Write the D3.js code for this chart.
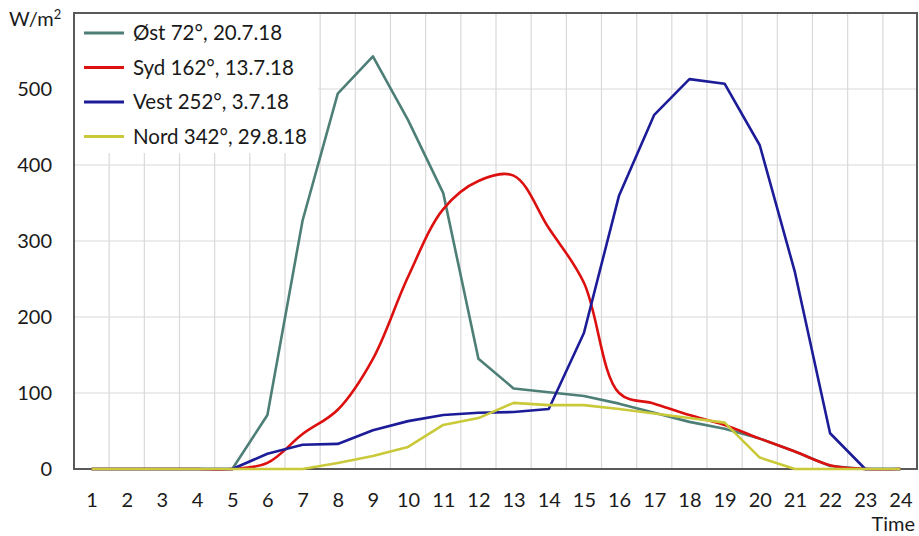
<!DOCTYPE html>
<html>
<head>
<meta charset="utf-8">
<script src="https://cdn.jsdelivr.net/npm/d3@7"></script>
<style>
  html, body { margin: 0; padding: 0; background: #fff; }
  svg { display: block; }
  text { font-family: Lato, "Open Sans", sans-serif; fill: #1a1a1a; }
</style>
</head>
<body>
<svg id="chart" width="919" height="536"></svg>
<script>
// ---- data ----
const hours = d3.range(1, 25);
const yTicks = [0, 100, 200, 300, 400, 500];
const seriesNames = ["Øst 72°, 20.7.18", "Syd 162°, 13.7.18", "Vest 252°, 3.7.18", "Nord 342°, 29.8.18"];
const seriesColors = ["#4d7f77", "#dd1010", "#1c1c98", "#c9c93a"];
const seriesSmooth = [false, true, false, false];
const ost  = [0, 0, 0, 0, 0, 71, 327, 494, 543, 459, 363, 145, 106, 101, 96, 86, 74, 62, 53, 40, 23, 4, 0, 0];
const syd  = [0, 0, 0, 0, 0, 8, 46, 78, 145, 253, 342, 379, 386, 317, 245, 100, 86, 71, 58, 40, 23, 5, 0, 0];
const vest = [0, 0, 0, 0, 0, 20, 32, 33, 51, 63, 71, 74, 75, 79, 179, 360, 466, 513, 507, 426, 259, 47, 0, 0];
const nord = [0, 0, 0, 0, 0, 0, 0, 8, 17, 29, 58, 67, 87, 84, 84, 79, 73, 67, 61, 15, 0, 0, 0, 0];
const seriesValues = [ost, syd, vest, nord];

// ---- layout ----
const svg = d3.select("#chart");
const L = 74, R = 918, T = 13, B = 469;

const xBand = d3.scaleBand().domain(hours).range([L, R]).paddingInner(0).paddingOuter(0);
const xc = h => xBand(h) + xBand.bandwidth() / 2;
const y = d3.scaleLinear().domain([0, 600]).range([B, T]);

// grid
const grid = svg.append("g");
grid.selectAll("line.h").data(yTicks.filter(v => v > 0)).join("line")
  .attr("x1", L).attr("x2", R).attr("y1", d => y(d)).attr("y2", d => y(d))
  .attr("stroke", "#d9d9d9").attr("stroke-width", 1.2);
grid.selectAll("line.v").data(hours.slice(1)).join("line")
  .attr("x1", d => xBand(d)).attr("x2", d => xBand(d)).attr("y1", T).attr("y2", B)
  .attr("stroke", "#d9d9d9").attr("stroke-width", 1.2);

// legend background
svg.append("rect").attr("x", L).attr("y", T).attr("width", 244).attr("height", 140).attr("fill", "#fff");

// border
svg.append("rect").attr("x", L).attr("y", T).attr("width", 917 - L).attr("height", B - T)
  .attr("fill", "none").attr("stroke", "#595959").attr("stroke-width", 2);

// lines
const linesG = svg.append("g");
seriesValues.forEach((vals, i) => {
  const gen = d3.line()
    .x((d, j) => xc(hours[j]))
    .y(d => y(d))
    .curve(seriesSmooth[i] ? d3.curveCatmullRom.alpha(0.5) : d3.curveLinear);
  linesG.append("path").datum(vals).attr("d", gen)
    .attr("fill", "none").attr("stroke", seriesColors[i]).attr("stroke-width", 2.6)
    .attr("stroke-linejoin", "round");
});

// axes
const xAxis = svg.append("g").attr("transform", `translate(0,${B})`)
  .call(d3.axisBottom(d3.scalePoint().domain(hours).range([xc(1), xc(24)])).tickSize(0));
xAxis.select(".domain").remove();
xAxis.selectAll("text").attr("y", 38).attr("dy", 0).style("font-size", "20px")
  .style("font-family", "Lato, sans-serif").attr("fill", "#1a1a1a");

const yAxis = svg.append("g").attr("transform", `translate(${L},0)`)
  .call(d3.axisLeft(y).tickValues(yTicks).tickSize(0).tickPadding(22));
yAxis.select(".domain").remove();
yAxis.selectAll("text").style("font-size", "20px").style("font-family", "Lato, sans-serif")
  .attr("fill", "#1a1a1a");

// axis titles
const yt = svg.append("text").attr("x", 9).attr("y", 26).style("font-size", "20px");
yt.append("tspan").text("W/m");
yt.append("tspan").attr("dy", -7).style("font-size", "13px").text("2");
svg.append("text").attr("x", 915).attr("y", 531).attr("text-anchor", "end").style("font-size", "20px").text("Time");

// legend
const leg = svg.append("g");
seriesNames.forEach((name, i) => {
  const yy = 33 + i * 34.5;
  leg.append("line").attr("x1", 84).attr("x2", 124).attr("y1", yy).attr("y2", yy)
    .attr("stroke", seriesColors[i]).attr("stroke-width", 3);
  leg.append("text").attr("x", 133).attr("y", yy + 7).style("font-size", "20.5px").text(name);
});
</script>
</body>
</html>
